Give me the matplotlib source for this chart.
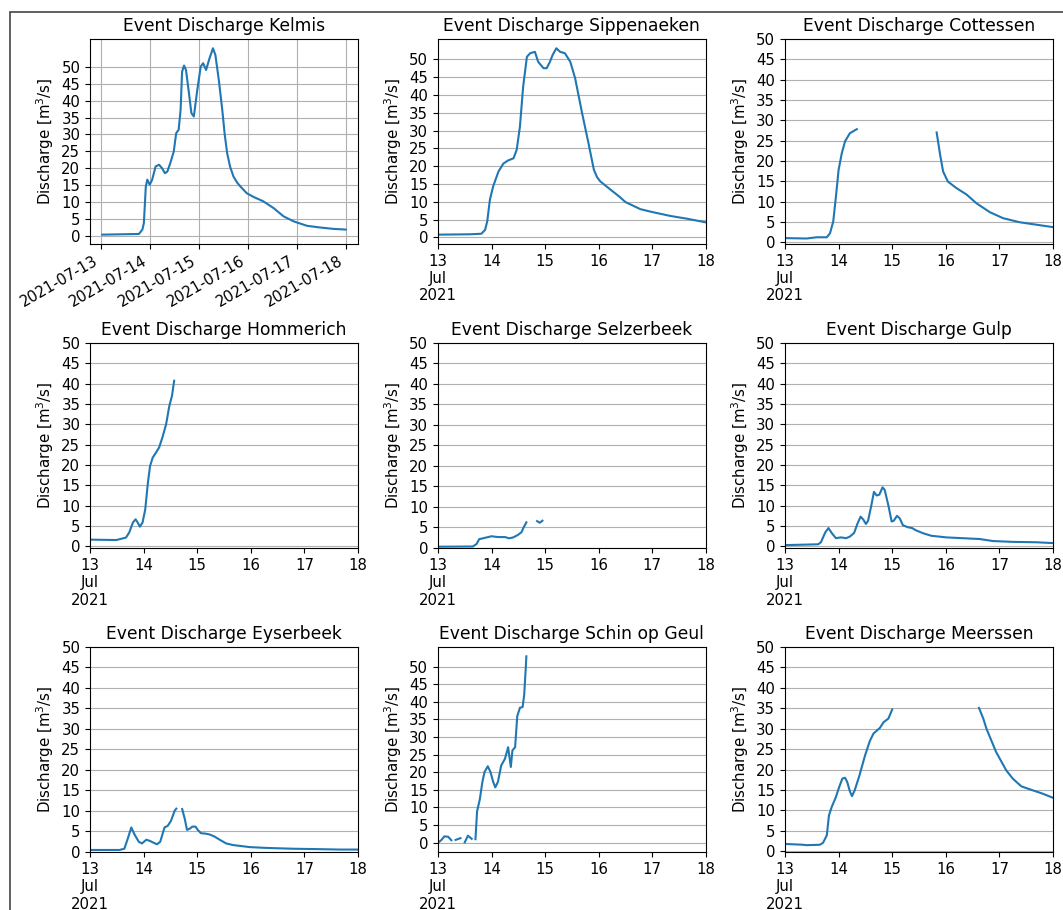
import numpy as np
import matplotlib
matplotlib.use("Agg")
import matplotlib.pyplot as plt
import matplotlib.dates as mdates
from matplotlib.patches import Rectangle
from datetime import datetime

nan = np.nan

# discharge per station: time as day of July 2021 (fractional), value in m3/s
# nan marks a gap in the record
kelmis_day = [13.03, 13.78, 13.85, 13.88, 13.92, 13.95, 14.0, 14.05, 14.12, 14.19, 14.25, 14.31,
              14.36, 14.42, 14.49, 14.54, 14.59, 14.63, 14.66, 14.70, 14.74, 14.80, 14.85, 14.90,
              14.97, 15.04, 15.09, 15.15, 15.21, 15.29, 15.34, 15.41, 15.48, 15.53, 15.58, 15.64,
              15.71, 15.78, 15.85, 15.98, 16.12, 16.32, 16.53, 16.73, 16.94, 17.21, 17.48, 17.75,
              18.0]
kelmis_q = [0.5, 0.7, 2.0, 3.9, 14.7, 16.7, 15.2, 16.7, 20.6, 21.1, 20.1, 18.6,
            19.1, 21.6, 25.0, 30.4, 31.4, 37.3, 48.5, 50.3, 49.0, 42.2, 36.3, 35.3,
            43.1, 50.0, 51.0, 49.0, 52.0, 55.4, 53.4, 46.0, 37.3, 30.0, 24.5, 20.5,
            17.6, 15.9, 14.7, 12.7, 11.6, 10.3, 8.3, 5.9, 4.4, 3.1, 2.6, 2.2,
            2.0]

sippenaeken_day = [13.0, 13.59, 13.81, 13.88, 13.92, 13.97, 14.03, 14.13, 14.22, 14.31, 14.41, 14.47,
                   14.53, 14.59, 14.66, 14.72, 14.81, 14.87, 14.97, 15.03, 15.09, 15.14, 15.21, 15.28,
                   15.37, 15.47, 15.56, 15.69, 15.81, 15.91, 15.97, 16.03, 16.22, 16.38, 16.5, 16.78,
                   17.0, 17.34, 17.66, 18.0]
sippenaeken_q = [0.75, 0.85, 1.0, 2.1, 4.5, 10.6, 14.3, 18.5, 20.7, 21.6, 22.2, 24.6,
                 31.1, 42.3, 50.7, 51.7, 52.1, 49.3, 47.5, 47.5, 49.3, 51.2, 53.1, 52.1,
                 51.7, 49.3, 44.7, 34.9, 26.4, 19.0, 16.9, 15.7, 13.4, 11.5, 9.9, 7.9,
                 7.1, 6.0, 5.2, 4.2]

cottessen_day = [13.0, 13.4, 13.59, 13.78, 13.84, 13.9, 13.95, 14.0, 14.06, 14.12, 14.21, 14.34,
                 15.0,
                 15.83, 15.89, 15.95, 16.04, 16.2, 16.39, 16.57, 16.82, 17.07, 17.38, 17.69, 18.0]
cottessen_q = [1.0, 0.9, 1.2, 1.2, 2.2, 5.1, 11.2, 17.8, 21.9, 24.8, 26.8, 27.8,
               nan,
               27.0, 21.9, 17.4, 14.9, 13.3, 11.7, 9.6, 7.4, 5.9, 4.9, 4.3, 3.7]

hommerich_day = [13.0, 13.49, 13.67, 13.73, 13.8, 13.85, 13.89, 13.93, 13.98, 14.03, 14.08, 14.12,
                 14.17, 14.23, 14.29, 14.35, 14.42, 14.48, 14.53, 14.57]
hommerich_q = [1.6, 1.5, 2.1, 3.3, 5.8, 6.6, 5.8, 4.8, 5.8, 9.0, 15.6, 19.7,
               21.8, 23.0, 24.3, 26.7, 30.0, 34.5, 37.0, 40.7]

selzerbeek_day = [13.0, 13.65, 13.72, 13.77, 13.84, 14.0, 14.12, 14.25, 14.33, 14.4, 14.49, 14.56,
                  14.6, 14.65, 14.75, 14.85, 14.9, 14.95]
selzerbeek_q = [0.25, 0.3, 0.9, 2.1, 2.3, 2.8, 2.6, 2.6, 2.3, 2.5, 3.1, 3.8,
                5.0, 6.2, nan, 6.5, 6.1, 6.6]

gulp_day = [13.0, 13.62, 13.67, 13.75, 13.81, 13.87, 13.95, 14.04, 14.14, 14.21, 14.29, 14.35,
            14.41, 14.46, 14.51, 14.55, 14.61, 14.66, 14.71, 14.76, 14.82, 14.86, 14.93, 14.99,
            15.03, 15.09, 15.14, 15.2, 15.29, 15.37, 15.45, 15.58, 15.73, 16.01, 16.32, 16.63,
            16.88, 17.25, 17.69, 18.0]
gulp_q = [0.3, 0.5, 1.0, 3.4, 4.5, 3.3, 2.0, 2.2, 2.0, 2.4, 3.3, 5.5,
          7.3, 6.6, 5.5, 6.3, 10.0, 13.4, 12.5, 12.7, 14.5, 13.9, 10.0, 6.1,
          6.3, 7.5, 6.9, 5.2, 4.7, 4.5, 3.9, 3.2, 2.6, 2.2, 2.0, 1.8,
          1.3, 1.1, 1.0, 0.8]

eyserbeek_day = [13.0, 13.55, 13.64, 13.7, 13.77, 13.83, 13.91, 13.97, 14.05, 14.12, 14.18, 14.25,
                 14.31, 14.39, 14.45, 14.51, 14.58, 14.61, 14.66, 14.72, 14.77, 14.81, 14.86, 14.91,
                 14.97, 15.01, 15.07, 15.15, 15.23, 15.32, 15.42, 15.54, 15.67, 15.98, 16.29, 16.79,
                 17.28, 17.66, 18.0]
eyserbeek_q = [0.4, 0.4, 0.7, 3.0, 5.9, 4.2, 2.4, 2.0, 2.9, 2.6, 2.2, 1.8,
               2.4, 5.9, 6.3, 7.5, 10.0, 10.5, nan, 10.4, 7.9, 5.3, 5.6, 6.1,
               6.1, 5.3, 4.5, 4.4, 4.2, 3.7, 2.9, 2.0, 1.6, 1.1, 0.9, 0.7,
               0.6, 0.5, 0.5]

schin_day = [13.0, 13.06, 13.12, 13.19, 13.25, 13.29, 13.33, 13.42, 13.46, 13.5, 13.56, 13.63,
             13.66, 13.7, 13.73, 13.78, 13.83, 13.87, 13.93, 13.98, 14.03, 14.07, 14.12, 14.18,
             14.25, 14.31, 14.36, 14.39, 14.44, 14.48, 14.53, 14.58, 14.61, 14.64, 14.65]
schin_q = [0.0, 0.7, 1.8, 1.7, 0.7, nan, 0.8, 1.3, nan, 0.1, 2.0, 1.1,
           nan, 1.0, 8.9, 12.2, 17.3, 20.1, 21.7, 20.1, 17.3, 15.7, 17.3, 21.9,
           23.8, 27.1, 21.5, 26.2, 27.1, 35.9, 38.3, 38.5, 42.0, 49.9, 52.9]

meerssen_day = [13.0, 13.34, 13.4, 13.65, 13.71, 13.78, 13.82, 13.87, 13.95, 14.01, 14.07, 14.12,
                14.16, 14.21, 14.25, 14.3, 14.39, 14.49, 14.58, 14.65, 14.77, 14.84, 14.93, 15.0,
                15.8,
                16.62, 16.7, 16.76, 16.94, 17.13, 17.25, 17.41, 17.63, 17.81, 18.0]
meerssen_q = [1.8, 1.6, 1.5, 1.6, 2.1, 3.9, 8.8, 10.8, 13.3, 15.7, 17.8, 18.0,
              17.0, 14.7, 13.5, 14.9, 18.6, 23.3, 26.9, 28.8, 30.2, 31.6, 32.5, 34.7,
              nan,
              35.1, 32.5, 30.0, 24.3, 19.8, 17.8, 15.9, 14.9, 14.1, 13.1]

stations = ["Kelmis", "Sippenaeken", "Cottessen",
            "Hommerich", "Selzerbeek", "Gulp",
            "Eyserbeek", "Schin op Geul", "Meerssen"]
days = [kelmis_day, sippenaeken_day, cottessen_day,
        hommerich_day, selzerbeek_day, gulp_day,
        eyserbeek_day, schin_day, meerssen_day]
flows = [kelmis_q, sippenaeken_q, cottessen_q,
         hommerich_q, selzerbeek_q, gulp_q,
         eyserbeek_q, schin_q, meerssen_q]
# stations whose y-axis is capped at 50
capped = ["Cottessen", "Hommerich", "Selzerbeek", "Gulp", "Eyserbeek", "Meerssen"]

tick_days = [13, 14, 15, 16, 17, 18]
tick_labels = ["13\nJul\n2021", "14", "15", "16", "17", "18"]

jul1 = mdates.date2num(datetime(2021, 7, 1))


def to_num(d):
    return jul1 + np.asarray(d) - 1


fig = plt.figure(figsize=(10.63, 9.10), dpi=100)

lefts = [0.0847, 0.412, 0.7385]
bottoms = [0.7319, 0.3978, 0.0637]
w, h = 0.252, 0.2253

for i, name in enumerate(stations):
    ax = fig.add_axes([lefts[i % 3], bottoms[i // 3], w, h])
    ax.plot(to_num(days[i]), flows[i], color="#1f77b4", lw=1.5)
    ax.set_title("Event Discharge " + name, fontsize=12.3)
    ax.set_ylabel("Discharge [m$^3$/s]", fontsize=10.8)
    ax.set_yticks(np.arange(0, 55, 5))
    ax.tick_params(labelsize=10.7)
    if name in capped:
        ax.set_ylim(top=50)
    if i == 0:
        ax.xaxis.set_major_locator(mdates.DayLocator())
        ax.xaxis.set_major_formatter(mdates.DateFormatter("%Y-%m-%d"))
        for lab in ax.get_xticklabels():
            lab.set_rotation(30)
            lab.set_ha("right")
        ax.grid(True)
    else:
        ax.set_xlim(to_num(13), to_num(18))
        ax.set_xticks(to_num(tick_days))
        ax.set_xticklabels(tick_labels)
        ax.grid(True, axis="y")

# frame around the whole panel
fig.patches.append(Rectangle((10 / 1063, -0.1), 1.2, 1 - 12 / 910 + 0.1,
                             transform=fig.transFigure, fill=False,
                             edgecolor="#444444", lw=1.2))

fig.savefig("out.png", dpi=100)
